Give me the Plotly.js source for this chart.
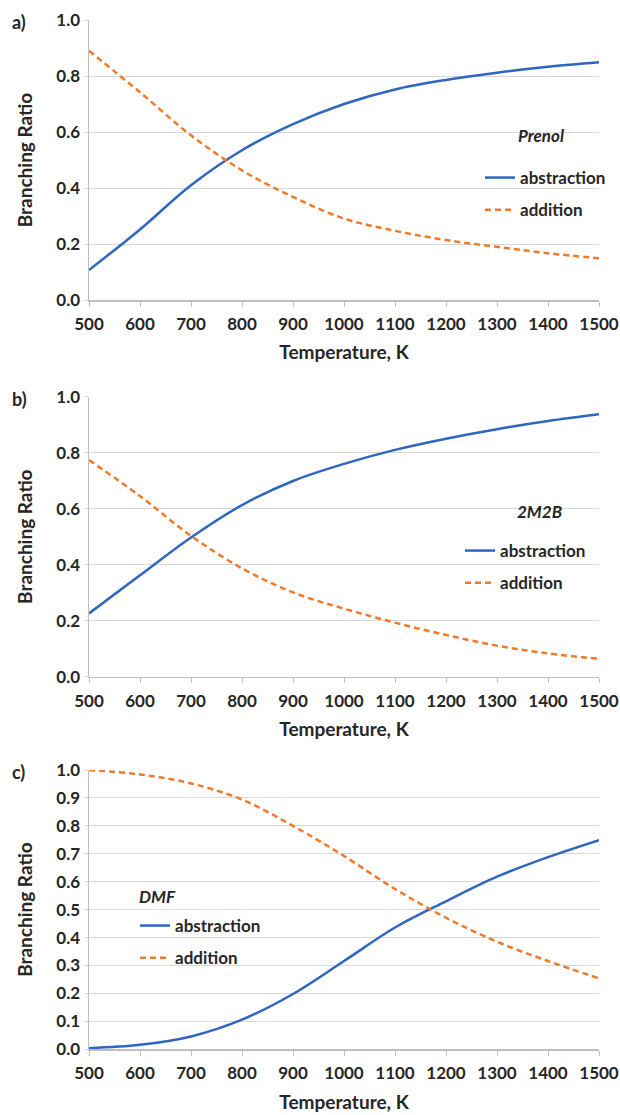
<!DOCTYPE html>
<html>
<head>
<meta charset="utf-8">
<script src="https://cdn.plot.ly/plotly-3.0.1.min.js"></script>
<style>html,body{margin:0;padding:0;background:#fff;}#chart{width:620px;height:1115px;}</style>
</head>
<body>
<div id="chart"></div>
<script>
// Temperature grid (K)
const temperature = [500, 600, 700, 800, 900, 1000, 1100, 1200, 1300, 1400, 1500];

// a) Prenol
const prenolAbstraction = [0.107, 0.252, 0.410, 0.535, 0.628, 0.700, 0.752, 0.786, 0.812, 0.833, 0.849];
const prenolAddition    = [0.890, 0.742, 0.588, 0.463, 0.368, 0.291, 0.247, 0.214, 0.190, 0.167, 0.149];

// b) 2M2B
const m2bAbstraction = [0.226, 0.362, 0.497, 0.613, 0.699, 0.760, 0.810, 0.850, 0.884, 0.913, 0.937];
const m2bAddition    = [0.774, 0.645, 0.503, 0.387, 0.301, 0.243, 0.193, 0.149, 0.111, 0.083, 0.064];

// c) DMF
const dmfAbstraction = [0.004, 0.016, 0.046, 0.106, 0.198, 0.316, 0.436, 0.530, 0.618, 0.688, 0.749];
const dmfAddition    = [1.000, 0.984, 0.952, 0.894, 0.800, 0.692, 0.574, 0.471, 0.385, 0.316, 0.254];

const seriesNames = ['abstraction', 'addition'];
const panelLabels = ['a)', 'b)', 'c)'];
const compoundNames = ['Prenol', '2M2B', 'DMF'];
const xTickVals = [500, 600, 700, 800, 900, 1000, 1100, 1200, 1300, 1400, 1500];

const BLUE = '#2E66C2';
const ORANGE = '#F07A2A';
const FONT = 'Lato, "Open Sans", sans-serif';
const TXT = '#262626';

const panels = [
  {abs: prenolAbstraction, add: prenolAddition, dtick: 0.2},
  {abs: m2bAbstraction, add: m2bAddition, dtick: 0.2},
  {abs: dmfAbstraction, add: dmfAddition, dtick: 0.1}
];

const traces = [];
panels.forEach((p, i) => {
  const sfx = i === 0 ? '' : String(i + 1);
  const leg = i === 0 ? 'legend' : 'legend' + (i + 1);
  traces.push({
    x: temperature, y: p.abs, name: seriesNames[0], type: 'scatter', mode: 'lines',
    line: {color: BLUE, width: 2.5, shape: 'spline', smoothing: 1},
    xaxis: 'x' + sfx, yaxis: 'y' + sfx, legend: leg, legendgroup: 'abs' + i
  });
  traces.push({
    x: temperature, y: p.add, name: seriesNames[1], type: 'scatter', mode: 'lines',
    line: {color: ORANGE, width: 2.5, dash: '6px,4px', shape: 'spline', smoothing: 1},
    xaxis: 'x' + sfx, yaxis: 'y' + sfx, legend: leg, legendgroup: 'add' + i
  });
});

const W = 620, H = 1115;
const xDom = [89 / W, 599 / W];
const yPix = [[20, 300], [396.7, 676.7], [770, 1049.3]];
const yDoms = yPix.map(([t, b]) => [1 - b / H, 1 - t / H]);

const layout = {
  width: W, height: H,
  margin: {l: 0, r: 0, t: 0, b: 0},
  paper_bgcolor: '#ffffff', plot_bgcolor: '#ffffff',
  font: {family: FONT, color: TXT, size: 17},
  annotations: [], showlegend: true
};

panels.forEach((p, i) => {
  const sfx = i === 0 ? '' : String(i + 1);
  layout['xaxis' + sfx] = {
    domain: xDom, anchor: 'y' + sfx, range: [500, 1500],
    tickvals: xTickVals, ticks: 'outside', ticklen: 5, tickcolor: '#bfbfbf', tickwidth: 1,
    showline: true, linecolor: '#bfbfbf', linewidth: 1.5, showgrid: false, zeroline: false,
    tickfont: {family: FONT, size: 17, color: TXT, weight: 'bold'}, ticklabelstandoff: 3,
    title: {text: 'Temperature, K', font: {family: FONT, size: 19, color: TXT, weight: 'bold'}, standoff: 13}
  };
  layout['yaxis' + sfx] = {
    domain: yDoms[i], anchor: 'x' + sfx, range: [0, 1],
    dtick: p.dtick, tick0: 0, tickformat: '.1f', ticks: 'outside', ticklen: 4, tickcolor: '#d9d9d9',
    showline: true, linecolor: '#bfbfbf', linewidth: 1.5, showgrid: true, gridcolor: '#d9d9d9', gridwidth: 1,
    zeroline: false,
    tickfont: {family: FONT, size: 17, color: TXT, weight: 'bold'},
    title: {text: 'Branching Ratio', font: {family: FONT, size: 19, color: TXT, weight: 'bold'}, standoff: 18}
  };
  layout.annotations.push({
    xref: 'paper', yref: 'paper', x: 10 / W, y: 1 - (yPix[i][0] + 2) / H,
    xanchor: 'left', yanchor: 'middle', showarrow: false,
    text: '<b>' + panelLabels[i] + '</b>', font: {family: FONT, size: 18, color: TXT}
  });
});

// compound labels and legends
const compoundPos = [[541, 135], [539, 512], [157, 897]];
const legendPos = [[480, 160], [460, 533], [135, 908]];
compoundNames.forEach((n, i) => {
  layout.annotations.push({
    xref: 'paper', yref: 'paper', x: compoundPos[i][0] / W, y: 1 - compoundPos[i][1] / H,
    xanchor: 'center', yanchor: 'middle', showarrow: false,
    text: '<b><i>' + n + '</i></b>', font: {family: FONT, size: 17, color: TXT}
  });
  const key = i === 0 ? 'legend' : 'legend' + (i + 1);
  layout[key] = {
    x: legendPos[i][0] / W, y: 1 - legendPos[i][1] / H, xanchor: 'left', yanchor: 'top',
    bgcolor: 'rgba(0,0,0,0)', borderwidth: 0, tracegroupgap: 7,
    font: {family: FONT, size: 17, color: TXT, weight: 'bold'}
  };
});

Plotly.newPlot('chart', traces, layout, {staticPlot: true});
</script>
</body>
</html>
